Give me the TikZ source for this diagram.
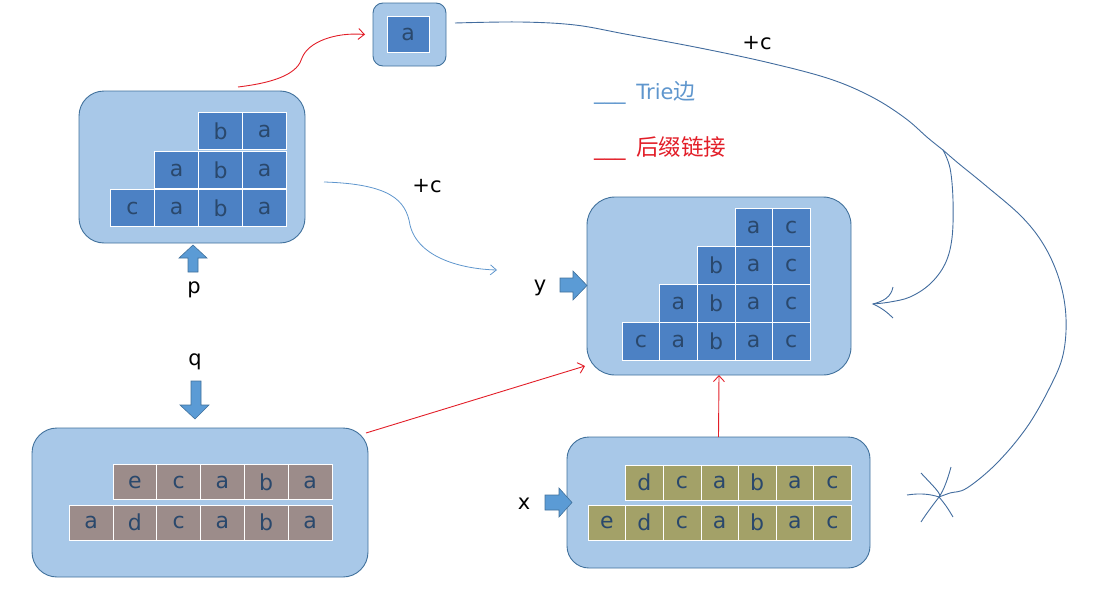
\documentclass[tikz,border=0pt]{standalone}
\usepackage{fontspec}
\setmainfont{DejaVu Sans}
\newfontfamily\cjk{Noto Sans CJK SC}
\usetikzlibrary{arrows.meta}
\definecolor{boxfill}{RGB}{168,200,232}
\definecolor{boxline}{RGB}{65,113,156}
\definecolor{cellblue}{RGB}{76,129,196}
\definecolor{celltext}{RGB}{42,72,108}
\definecolor{cellbrown}{RGB}{156,140,138}
\definecolor{cellolive}{RGB}{163,161,104}
\definecolor{arrfill}{RGB}{91,155,213}
\definecolor{linkred}{RGB}{226,30,40}
\definecolor{triblue}{RGB}{66,108,158}
\definecolor{legblue}{RGB}{95,150,205}
\tikzset{
  statebox/.style={draw=boxline, fill=boxfill, line width=0.9pt, rounded corners=#1, inner sep=0pt, outer sep=0pt},
  cellbase/.style={draw=white, line width=0.6pt, inner sep=0pt, outer sep=0pt, text=celltext, font=\fontsize{22}{24}\selectfont},
  cb/.style={cellbase, fill=cellblue, minimum width=44pt, minimum height=37pt},
  cy/.style={cellbase, fill=cellblue, minimum width=37.6pt, minimum height=38pt},
  cq/.style={cellbase, fill=cellbrown, minimum width=43.8pt, minimum height=35pt},
  cx/.style={cellbase, fill=cellolive, minimum width=37.6pt, minimum height=35pt},
  blockarrow/.style={draw=boxline, fill=arrfill, line width=0.6pt},
  lbl/.style={font=\fontsize{21}{24}\selectfont, text=black, inner sep=0pt},
  suffixlink/.style={draw=linkred, line width=0.9pt, -{Straight Barb[length=6pt,width=11pt]}},
  trieedge/.style={draw=triblue, line width=0.9pt},
}
\begin{document}
\begin{tikzpicture}[x=1pt,y=-1pt]
\useasboundingbox (0,0) rectangle (1093,597);
% ---------- boxes ----------
\node[statebox=25pt, minimum width=226pt, minimum height=152pt] (P) at (192,167) {};
\node[statebox=10pt, minimum width=73pt, minimum height=63pt] (A) at (409.5,34.5) {};
\node[statebox=28pt, minimum width=264pt, minimum height=178pt] (Y) at (719,286) {};
\node[statebox=25pt, minimum width=336pt, minimum height=149pt] (Q) at (200,502.5) {};
\node[statebox=22pt, minimum width=303pt, minimum height=131pt] (X) at (718.5,502.5) {};
% ---------- cells of P ----------
\node[cb] (p11) at (220.5,131) {b};
\node[cb] (p12) at (264.5,131) {a};
\node[cb] (p21) at (176.5,170) {a};
\node[cb] (p22) at (220.5,170) {b};
\node[cb] (p23) at (264.5,170) {a};
\node[cb] (p31) at (132.5,208) {c};
\node[cb] (p32) at (176.5,208) {a};
\node[cb] (p33) at (220.5,208) {b};
\node[cb] (p34) at (264.5,208) {a};
% ---------- cell of A ----------
\node[cellbase, fill=cellblue, minimum width=42pt, minimum height=36pt] (a1) at (408,34) {a};
% ---------- cells of Y ----------
\node[cy] (y11) at (753.6,227) {a};
\node[cy] (y12) at (791.2,227) {c};
\node[cy] (y21) at (716,265) {b};
\node[cy] (y22) at (753.6,265) {a};
\node[cy] (y23) at (791.2,265) {c};
\node[cy] (y31) at (678.4,303) {a};
\node[cy] (y32) at (716,303) {b};
\node[cy] (y33) at (753.6,303) {a};
\node[cy] (y34) at (791.2,303) {c};
\node[cy] (y41) at (640.8,341) {c};
\node[cy] (y42) at (678.4,341) {a};
\node[cy] (y43) at (716,341) {b};
\node[cy] (y44) at (753.6,341) {a};
\node[cy] (y45) at (791.2,341) {c};
% ---------- cells of Q ----------
\node[cq] (q11) at (134.8,482) {e};
\node[cq] (q12) at (178.6,482) {c};
\node[cq] (q13) at (222.4,482) {a};
\node[cq] (q14) at (266.2,482) {b};
\node[cq] (q15) at (310,482) {a};
\node[cq] (q21) at (91,522.5) {a};
\node[cq] (q22) at (134.8,522.5) {d};
\node[cq] (q23) at (178.6,522.5) {c};
\node[cq] (q24) at (222.4,522.5) {a};
\node[cq] (q25) at (266.2,522.5) {b};
\node[cq] (q26) at (310,522.5) {a};
% ---------- cells of X ----------
\node[cx] (x11) at (644.4,482.5) {d};
\node[cx] (x12) at (682,482.5) {c};
\node[cx] (x13) at (719.6,482.5) {a};
\node[cx] (x14) at (757.2,482.5) {b};
\node[cx] (x15) at (794.8,482.5) {a};
\node[cx] (x16) at (832.4,482.5) {c};
\node[cx] (x21) at (606.8,522.5) {e};
\node[cx] (x22) at (644.4,522.5) {d};
\node[cx] (x23) at (682,522.5) {c};
\node[cx] (x24) at (719.6,522.5) {a};
\node[cx] (x25) at (757.2,522.5) {b};
\node[cx] (x26) at (794.8,522.5) {a};
\node[cx] (x27) at (832.4,522.5) {c};
% ---------- block arrows ----------
\draw[blockarrow] (193,245) -- (207,258) -- (198,258) -- (198,272) -- (188,272) -- (188,258) -- (179,258) -- cycle;
\draw[blockarrow] (195,419) -- (209,405) -- (201,405) -- (201,381) -- (191,381) -- (191,405) -- (180,405) -- cycle;
\draw[blockarrow] (587,285.5) -- (573,271) -- (573,278) -- (560,278) -- (560,292) -- (573,292) -- (573,300) -- cycle;
\draw[blockarrow] (572,502.5) -- (559,488) -- (559,495) -- (545,495) -- (545,510) -- (559,510) -- (559,517) -- cycle;
% ---------- labels ----------
\node[lbl] (lp) at (194,290) {p};
\node[lbl] (lq) at (195,362) {q};
\node[lbl] (ly) at (540,288) {y};
\node[lbl] (lx) at (524,504) {x};
\node[lbl] (c1) at (427,186) {+c};
\node[lbl] (c2) at (757,43) {+c};
% ---------- legend ----------
\node[anchor=west, inner sep=0pt, text=legblue, font=\fontsize{21}{24}\selectfont] (legT) at (594,93) {\_\_\_\hspace{4pt} Trie{\cjk\fontsize{22}{24}\selectfont 边}};
\node[anchor=west, inner sep=0pt, text=linkred, font=\fontsize{21}{24}\selectfont] (legS) at (594,148) {\_\_\_\hspace{4pt} {\cjk\fontsize{22.5}{24}\selectfont 后缀链接}};
% ---------- suffix links (red) ----------
\coordinate (pTop) at (238,87);
\draw[suffixlink] (pTop) .. controls (280,82) and (298,72) .. (302,58) .. controls (308,42) and (335,32) .. ([xshift=-8pt]A.west);
\coordinate (qCorner) at (366,433);
\draw[suffixlink] (qCorner) -- (585,366);
\draw[suffixlink] (X.north) -- (Y.south);
% ---------- trie edges (blue) ----------
\coordinate (pOut) at (324,182);
\coordinate (yIn) at (497,270);
\draw[draw=legblue, line width=0.8pt, -{Straight Barb[length=6pt,width=10pt]}] (pOut) .. controls (390,184) and (406,200) .. (410,225) .. controls (418,258) and (462,269) .. (yIn);
\coordinate (aOut) at (455,23);
\coordinate (split) at (943,150);
\coordinate (yHead) at (873,304);
\coordinate (xHead) at (939,497);
\draw[trieedge] plot[smooth, tension=0.6] coordinates {(aOut) (520,22) (575,25) (625,34) (700,48) (770,63) (830,79) (872,97) (905,118) (928,138) (split)};
\draw[trieedge] plot[smooth, tension=0.6] coordinates {(split) (950,168) (953,200) (952,238) (945,264) (930,284) (910,297) (890,302) (yHead)};
\draw[trieedge] (893,287) .. controls (891,297) and (884,301) .. (yHead) .. controls (882,308) and (888,313) .. (893,318);
\draw[trieedge] plot[smooth, tension=0.6] coordinates {(split) (958,163) (985,185) (1022,217) (1045,247) (1060,282) (1066,318) (1063,355) (1050,387) (1027,427) (997,463) (967,488) (950,493) (xHead)};
\draw[trieedge] (907,495) .. controls (920,493) and (930,494) .. (xHead);
\draw[trieedge] (921,473) .. controls (932,485) and (943,495) .. (xHead) .. controls (946,505) and (950,512) .. (953,517);
\draw[trieedge] (951,467) .. controls (948,478) and (944,490) .. (xHead) .. controls (933,505) and (926,514) .. (921,522);
\end{tikzpicture}
\end{document}
